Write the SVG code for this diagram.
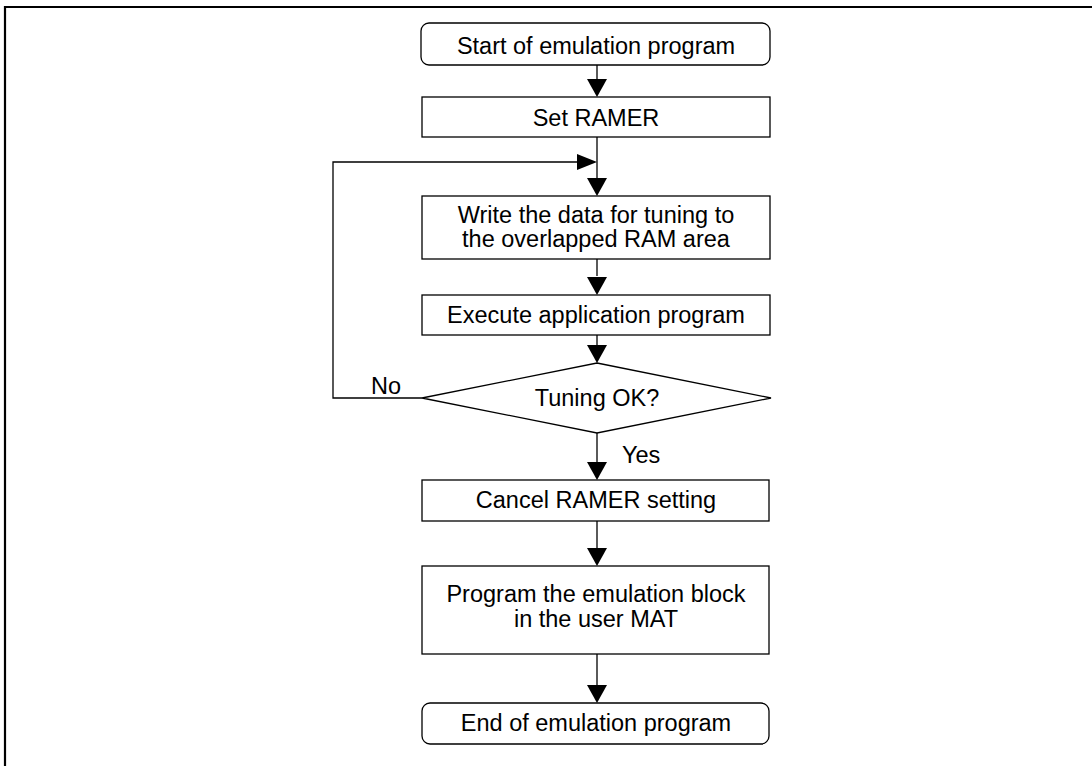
<svg xmlns="http://www.w3.org/2000/svg" width="1092" height="766" viewBox="0 0 1092 766">
<style>
.box{fill:#fff;stroke:#000;stroke-width:1.3}
.ln{fill:none;stroke:#000;stroke-width:1.3}
.t{font-family:"Liberation Sans",Arial,sans-serif;font-size:23.5px;fill:#000;text-anchor:middle}
.l{font-family:"Liberation Sans",Arial,sans-serif;font-size:23.5px;fill:#000}
.ah{fill:#000}
</style>
<defs>
<polygon id="down" class="ah" points="-10,-18 10,-18 0,0"/>
</defs>
<rect width="1092" height="766" fill="#fff"/>
<g id="frame">
<line x1="5" y1="7" x2="1092" y2="7" stroke="#000" stroke-width="2.2"/>
<line x1="5" y1="6" x2="5" y2="766" stroke="#000" stroke-width="2.2"/>
</g>
<g id="connectors">
<line class="ln" x1="597" y1="65" x2="597" y2="82"/>
<use href="#down" x="597" y="97"/>
<line class="ln" x1="597" y1="137" x2="597" y2="178"/>
<use href="#down" x="597" y="196"/>
<line class="ln" x1="597" y1="259" x2="597" y2="276"/>
<use href="#down" x="597" y="295"/>
<line class="ln" x1="597" y1="335" x2="597" y2="346"/>
<use href="#down" x="597" y="363"/>
<polyline class="ln" points="422,398 333,398 333,162 578,162"/>
<polygon class="ah" points="577,154 577,170 597,162"/>
<line class="ln" x1="597" y1="433" x2="597" y2="462"/>
<use href="#down" x="597" y="480"/>
<line class="ln" x1="597" y1="521" x2="597" y2="548"/>
<use href="#down" x="597" y="566"/>
<line class="ln" x1="597" y1="654" x2="597" y2="685"/>
<use href="#down" x="597" y="703"/>
</g>
<g id="n_start">
<rect class="box" x="421" y="23" width="349" height="42" rx="8"/>
<text class="t" x="596" y="53.5">Start of emulation program</text>
</g>
<g id="n_set">
<rect class="box" x="422" y="97" width="348" height="40"/>
<text class="t" x="596" y="125.5">Set RAMER</text>
</g>
<g id="n_write">
<rect class="box" x="422" y="196" width="348" height="63"/>
<text class="t" x="596" y="223">Write the data for tuning to</text>
<text class="t" x="596" y="247">the overlapped RAM area</text>
</g>
<g id="n_exec">
<rect class="box" x="422" y="295" width="348" height="40"/>
<text class="t" x="596" y="323">Execute application program</text>
</g>
<g id="n_tuning">
<polygon class="box" points="597,363 771,398 597,433 422,398"/>
<text class="t" x="597" y="406">Tuning OK?</text>
</g>
<text class="l" x="371" y="394">No</text>
<text class="l" x="622" y="463">Yes</text>
<g id="n_cancel">
<rect class="box" x="422" y="480" width="347" height="41"/>
<text class="t" x="596" y="508">Cancel RAMER setting</text>
</g>
<g id="n_prog">
<rect class="box" x="422" y="566" width="347" height="88"/>
<text class="t" x="596" y="602">Program the emulation block</text>
<text class="t" x="596" y="627">in the user MAT</text>
</g>
<g id="n_end">
<rect class="box" x="422" y="703" width="347" height="41" rx="8"/>
<text class="t" x="596" y="730.5">End of emulation program</text>
</g>
</svg>
